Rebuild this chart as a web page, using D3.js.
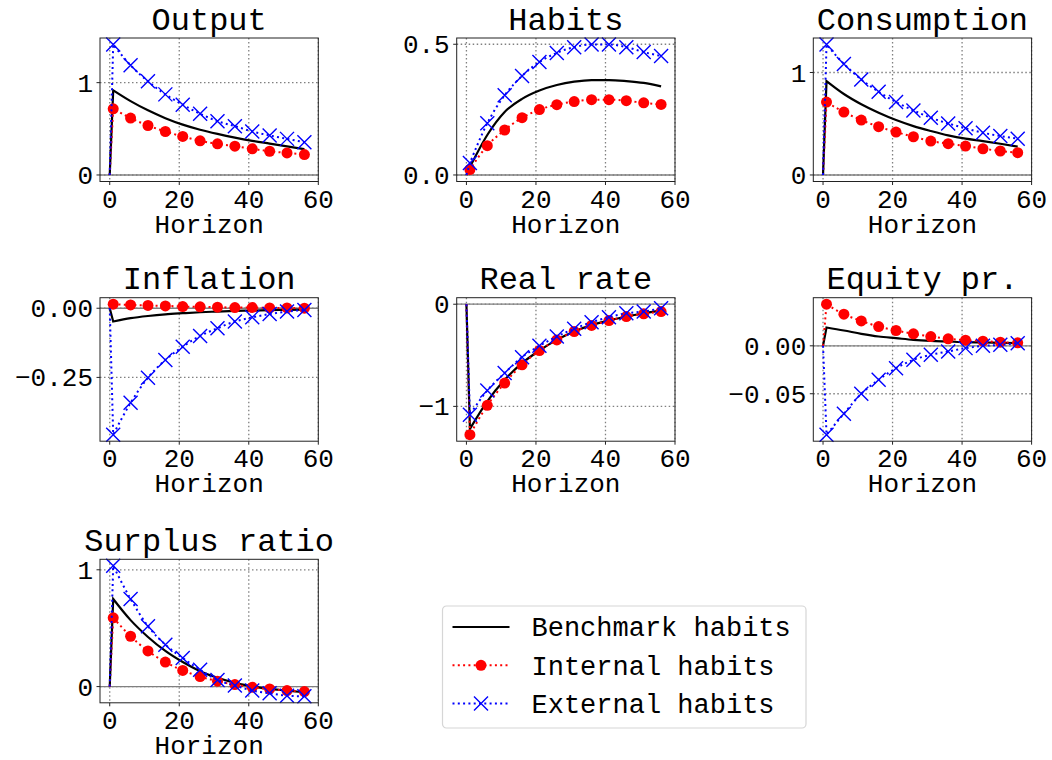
<!DOCTYPE html>
<html>
<head>
<meta charset="utf-8">
<script src="https://cdn.jsdelivr.net/npm/d3@7"></script>
<style>
  body { margin: 0; background: #fff; }
  text { font-family: "Courier New", "Nimbus Mono PS", "Nimbus Mono L", FreeMono, Courier, "Liberation Mono", monospace; fill: #000; }
</style>
</head>
<body>
<script>
// horizon points (markers sit on every point after the first)
const horizon = [0, 1, 6, 11, 16, 21, 26, 31, 36, 41, 46, 51, 56];
const xTicks = [0, 20, 40, 60];

const outputBench = [0, 0.917, 0.80, 0.70, 0.615, 0.545, 0.49, 0.445, 0.405, 0.37, 0.34, 0.31, 0.28];
const outputInt   = [0, 0.717, 0.616, 0.536, 0.471, 0.417, 0.370, 0.337, 0.312, 0.283, 0.257, 0.239, 0.221];
const outputExt   = [0, 1.413, 1.188, 1.014, 0.873, 0.761, 0.663, 0.583, 0.529, 0.471, 0.428, 0.391, 0.355];

const habitsBench = [0, 0.03, 0.153, 0.241, 0.291, 0.323, 0.344, 0.357, 0.363, 0.363, 0.359, 0.352, 0.339];
const habitsInt   = [0, 0.021, 0.112, 0.172, 0.219, 0.25, 0.269, 0.281, 0.288, 0.288, 0.284, 0.276, 0.27];
const habitsExt   = [0, 0.046, 0.198, 0.305, 0.379, 0.432, 0.467, 0.489, 0.499, 0.499, 0.489, 0.47, 0.455];

const consBench = [0, 0.916, 0.79, 0.69, 0.607, 0.536, 0.477, 0.429, 0.386, 0.354, 0.331, 0.305, 0.276];
const consInt   = [0, 0.711, 0.614, 0.536, 0.471, 0.419, 0.373, 0.331, 0.305, 0.282, 0.256, 0.234, 0.218];
const consExt   = [0, 1.273, 1.084, 0.932, 0.812, 0.711, 0.63, 0.558, 0.503, 0.455, 0.412, 0.38, 0.354];

const inflBench = [0, -0.048, -0.036, -0.028, -0.022, -0.018, -0.0145, -0.012, -0.0097, -0.0085, -0.007, -0.006, -0.005];
const inflInt   = [0, 0.0145, 0.012, 0.01, 0.0085, 0.006, 0.005, 0.004, 0.0025, 0.0025, 0.001, 0.001, 0.0];
const inflExt   = [0, -0.457, -0.342, -0.251, -0.187, -0.139, -0.1, -0.0725, -0.048, -0.033, -0.021, -0.012, -0.006];

const rateBench = [0, -1.22, -0.95, -0.74, -0.577, -0.453, -0.349, -0.267, -0.205, -0.16, -0.12, -0.088, -0.062];
const rateInt   = [0, -1.277, -0.99, -0.772, -0.593, -0.453, -0.349, -0.267, -0.208, -0.16, -0.121, -0.094, -0.072];
const rateExt   = [0, -1.081, -0.844, -0.674, -0.518, -0.407, -0.316, -0.241, -0.176, -0.127, -0.088, -0.072, -0.039];

const eqBench = [0, 0.0191, 0.016, 0.0125, 0.0097, 0.008, 0.0063, 0.0052, 0.0045, 0.0038, 0.0035, 0.0031, 0.0028];
const eqInt   = [0, 0.0434, 0.033, 0.026, 0.0201, 0.016, 0.0125, 0.0097, 0.0073, 0.0059, 0.0049, 0.0038, 0.0031];
const eqExt   = [0, -0.0927, -0.0708, -0.05, -0.0354, -0.0233, -0.0146, -0.0094, -0.0059, -0.0024, 0, 0.001, 0.0028];

const surpBench = [0, 0.75, 0.569, 0.425, 0.305, 0.21, 0.132, 0.075, 0.032, 0.003, -0.02, -0.034, -0.049];
const surpInt   = [0, 0.589, 0.431, 0.305, 0.21, 0.138, 0.086, 0.046, 0.017, -0.006, -0.02, -0.034, -0.043];
const surpExt   = [0, 1.034, 0.75, 0.517, 0.359, 0.244, 0.144, 0.057, 0.009, -0.034, -0.057, -0.078, -0.083];

const titles = ['Output', 'Habits', 'Consumption', 'Inflation', 'Real rate', 'Equity pr.', 'Surplus ratio'];
const yTicks = [[0, 1], [0, 0.5], [0, 1], [0, -0.25], [-1, 0], [0, -0.05], [0, 1]];
const yTickLabels = [['0', '1'], ['0.0', '0.5'], ['0', '1'], ['0.00', '\u22120.25'], ['\u22121', '0'], ['0.00', '\u22120.05'], ['0', '1']];
const seriesNames = ['Benchmark habits', 'Internal habits', 'External habits'];

const panels = [
  [outputBench, outputInt, outputExt],
  [habitsBench, habitsInt, habitsExt],
  [consBench, consInt, consExt],
  [inflBench, inflInt, inflExt],
  [rateBench, rateInt, rateExt],
  [eqBench, eqInt, eqExt],
  [surpBench, surpInt, surpExt]
];

const [W, H] = [1052, 760];
const colX = [100, 456.7, 813.3];
const rowY = [38, 297.7, 559.3];
const [pw, ph] = [218.3, 143.5];

const svg = d3.select('body').append('svg').attr('width', W).attr('height', H);

const lineStyles = [
  { color: '#000', dash: null, width: 2.2 },
  { color: '#ff0000', dash: '2,3.3', width: 2 },
  { color: '#0000ff', dash: '2,3.3', width: 2 }
];

let drawMarker = (g, k, x, y) => {
  if (k == 1) {
    g.append('circle').attr('cx', x).attr('cy', y).attr('r', 5.5).attr('fill', '#ff0000');
  } else if (k == 2) {
    const s = 7;
    g.append('path')
      .attr('d', `M${x - s},${y - s}L${x + s},${y + s}M${x - s},${y + s}L${x + s},${y - s}`)
      .attr('stroke', '#0000ff').attr('stroke-width', 1.4).attr('fill', 'none');
  }
};

panels.forEach((series, i) => {
  const px = colX[i % 3], py = rowY[Math.floor(i / 3)];
  const g = svg.append('g').attr('transform', `translate(${px},${py})`);

  const all = series.flat();
  const [lo, hi] = d3.extent(all);
  const m = (hi - lo) * 0.05;
  const x = d3.scaleLinear().domain([-2.8, 60]).range([0, pw]);
  const y = d3.scaleLinear().domain([lo - m, hi + m]).range([ph, 0]);

  // grid
  g.selectAll('.vg').data(xTicks).enter().append('line')
    .attr('x1', d => x(d)).attr('x2', d => x(d)).attr('y1', 0).attr('y2', ph)
    .attr('stroke', '#808080').attr('stroke-width', 1.3).attr('stroke-dasharray', '1.5,2.5');
  g.selectAll('.hg').data(yTicks[i]).enter().append('line')
    .attr('x1', 0).attr('x2', pw).attr('y1', d => y(d)).attr('y2', d => y(d))
    .attr('stroke', '#808080').attr('stroke-width', 1.3).attr('stroke-dasharray', '1.5,2.5');
  // zero line
  g.append('line').attr('x1', 0).attr('x2', pw).attr('y1', y(0)).attr('y2', y(0))
    .attr('stroke', '#808080').attr('stroke-width', 1.3);

  // straight jump at impact, smooth decay afterwards
  const line = d3.line().x(d => x(d[0])).y(d => y(d[1])).curve(d3.curveMonotoneX);
  series.forEach((vals, k) => {
    const st = lineStyles[k];
    const pts = horizon.map((h, j) => [h, vals[j]]);
    const d = `M${x(pts[0][0])},${y(pts[0][1])}` + line(pts.slice(1)).replace(/^M/, 'L');
    g.append('path').attr('d', d).attr('fill', 'none')
      .attr('stroke', st.color).attr('stroke-width', st.width)
      .attr('stroke-dasharray', st.dash);
    pts.slice(1).forEach(p => drawMarker(g, k, x(p[0]), y(p[1])));
  });

  // frame
  g.append('rect').attr('width', pw).attr('height', ph).attr('fill', 'none')
    .attr('stroke', '#222').attr('stroke-width', 1);

  // ticks
  g.selectAll('.xt').data(xTicks).enter().append('line')
    .attr('x1', d => x(d)).attr('x2', d => x(d)).attr('y1', ph).attr('y2', ph + 3.5)
    .attr('stroke', '#222');
  g.selectAll('.xl').data(xTicks).enter().append('text')
    .attr('x', d => x(d)).attr('y', ph + 26).attr('text-anchor', 'middle')
    .attr('font-size', 26).text(d => d);
  g.selectAll('.yt').data(yTicks[i]).enter().append('line')
    .attr('x1', -3.5).attr('x2', 0).attr('y1', d => y(d)).attr('y2', d => y(d))
    .attr('stroke', '#222');
  g.selectAll('.yl').data(yTicks[i]).enter().append('text')
    .attr('x', -7).attr('y', d => y(d)).attr('dy', '0.35em').attr('text-anchor', 'end')
    .attr('font-size', 26).text((d, j) => yTickLabels[i][j]);

  g.append('text').attr('x', pw / 2).attr('y', ph + 51).attr('text-anchor', 'middle')
    .attr('font-size', 26).text('Horizon');
  g.append('text').attr('x', pw / 2).attr('y', -8.5).attr('text-anchor', 'middle')
    .attr('font-size', 32).text(titles[i]);
});

// legend
const legend = svg.append('g').attr('transform', 'translate(442.5,606)');
legend.append('rect').attr('width', 363.5).attr('height', 122).attr('rx', 4)
  .attr('fill', '#fff').attr('stroke', '#d6d6d6').attr('stroke-width', 1.2);
seriesNames.forEach((name, k) => {
  const st = lineStyles[k];
  const ly = 21 + k * 38.3;
  legend.append('line').attr('x1', 10).attr('x2', 67).attr('y1', ly).attr('y2', ly)
    .attr('stroke', st.color).attr('stroke-width', st.width).attr('stroke-dasharray', st.dash);
  drawMarker(legend, k, 38.5, ly);
  legend.append('text').attr('x', 89).attr('y', ly).attr('dy', '0.35em')
    .attr('font-size', 27).text(name);
});
</script>
</body>
</html>
